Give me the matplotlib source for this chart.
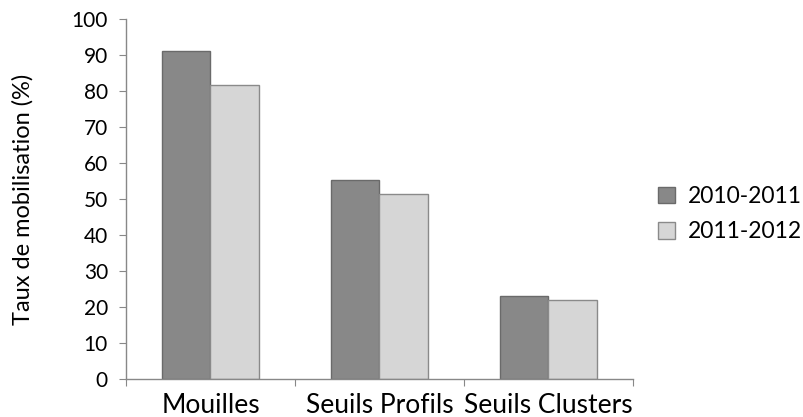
import matplotlib
matplotlib.use("Agg")
import matplotlib.pyplot as plt
import numpy as np

categories = ["Mouilles", "Seuils Profils", "Seuils Clusters"]
series_names = ["2010-2011", "2011-2012"]
values_2010_2011 = [91.1, 55.3, 23.1]
values_2011_2012 = [81.8, 51.5, 22.0]
yticks = [0, 10, 20, 30, 40, 50, 60, 70, 80, 90, 100]

plt.rcParams['font.family'] = ['Lato', 'DejaVu Sans']

fig = plt.figure(figsize=(8.04, 4.17), dpi=100)
ax = fig.add_axes([126/804, 1-379/417, (633-126)/804, (379-19)/417])

x = np.arange(len(categories)) + 0.5
w = 0.285
ax.bar(x - w/2, values_2010_2011, w, color="#888888", edgecolor="#6a6a6a", linewidth=1.0, label=series_names[0])
ax.bar(x + w/2, values_2011_2012, w, color="#d6d6d6", edgecolor="#8a8a8a", linewidth=1.0, label=series_names[1])

ax.set_xlim(0, 3)
ax.set_ylim(0, 100)
ax.set_yticks(yticks)
ax.set_xticks([0, 1, 2, 3])
ax.set_xticklabels([])
ax.set_xticks(x, minor=True)
ax.set_xticklabels(categories, minor=True, fontsize=19)
ax.tick_params(axis='x', which='minor', length=0, pad=10)
ax.tick_params(axis='x', which='major', length=5, color="#888888", direction='out')
ax.tick_params(axis='y', length=5, color="#888888", labelsize=15, pad=8)
for s in ["top", "right"]:
    ax.spines[s].set_visible(False)
for s in ["left", "bottom"]:
    ax.spines[s].set_color("#888888")
    ax.spines[s].set_linewidth(1.0)
ax.set_ylabel("Taux de mobilisation (%)", fontsize=17)
ax.yaxis.set_label_coords(-0.183, 0.5)

leg = ax.legend(loc="center left", bbox_to_anchor=(658/804, 1-214/417),
                bbox_transform=fig.transFigure, frameon=False, fontsize=16.5,
                handlelength=0.75, handleheight=0.75, handletextpad=0.55,
                labelspacing=0.62, borderpad=0, borderaxespad=0)

fig.savefig("out.png", dpi=100)
